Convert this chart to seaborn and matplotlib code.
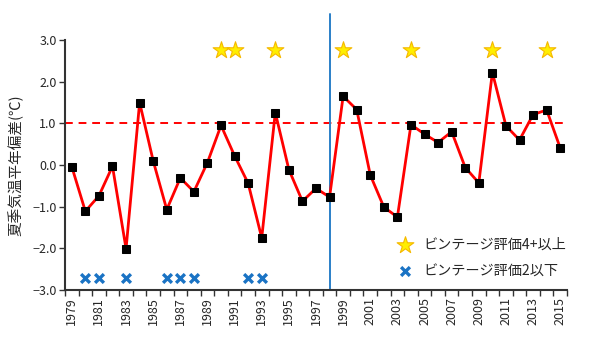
import numpy as np
import pandas as pd
import seaborn as sns
import matplotlib.pyplot as plt
from matplotlib.ticker import FixedLocator, FuncFormatter

# Summer temperature anomaly by year (deg C)
years = list(range(1979, 2016))
anomaly = [-0.04, -1.11, -0.74, -0.03, -2.01, 1.50, 0.10, -1.07, -0.31, -0.64,
           0.06, 0.95, 0.22, -0.44, -1.75, 1.26, -0.11, -0.87, -0.56, -0.77,
           1.65, 1.33, -0.24, -1.01, -1.25, 0.97, 0.74, 0.54, 0.80, -0.06,
           -0.43, 2.22, 0.94, 0.60, 1.21, 1.32, 0.41]

# Vintage rating markers
good_years = [1990, 1991, 1994, 1999, 2004, 2010, 2014]
good_level = 2.75
poor_years = [1980, 1981, 1983, 1986, 1987, 1988, 1992, 1993]
poor_level = -2.70

threshold = 1.0
change_year = 1998

good_label = "ビンテージ評価4+以上"
poor_label = "ビンテージ評価2以下"
y_label = "夏季気温平年偏差(℃)"

sns.set_style("white")
plt.rcParams["font.family"] = ["Noto Sans CJK JP", "DejaVu Sans"]

df = pd.DataFrame({"year": years, "anomaly": anomaly})
good_df = pd.DataFrame({"year": good_years, "v": [good_level] * len(good_years)})
poor_df = pd.DataFrame({"year": poor_years, "v": [poor_level] * len(poor_years)})

fig = plt.figure(figsize=(5.93, 3.39), dpi=100)
ax = fig.add_axes([65 / 593, 1 - 290 / 339, 502 / 593, 250 / 339])

ax.axhline(threshold, color="#ff0000", lw=1.4, ls=(0, (4, 3)), zorder=1)

sns.lineplot(data=df, x="year", y="anomaly", ax=ax, color="#ff0000", lw=2,
             marker="s", markersize=5.5, markerfacecolor="black",
             markeredgecolor="black", legend=False, zorder=3)

ax.axvline(change_year, ymin=0, ymax=(3.62 + 3) / 6, color="#2a7fc8",
           lw=1.4, clip_on=False, zorder=2)

sns.scatterplot(data=good_df, x="year", y="v", ax=ax, marker="*", s=160,
                color="#ffee00", edgecolor="#f5b800", linewidth=0.8,
                label=good_label, zorder=4)
sns.scatterplot(data=poor_df, x="year", y="v", ax=ax, marker="x", s=40,
                color="#1a73c4", linewidth=2.4, label=poor_label, zorder=4)

ax.set_xlim(1978.5, 2015.5)
ax.set_ylim(-3, 3)
ax.set_xlabel("")
ax.set_ylabel(y_label, fontsize=10.5, labelpad=6)

ax.set_yticks(np.arange(-3, 3.01, 1.0))
ax.yaxis.set_major_formatter(FuncFormatter(lambda v, p: f"{v:.1f}".replace("-", "−")))

ax.set_xticks(years[::2])
ax.set_xticklabels([str(y) for y in years[::2]], rotation=90)
ax.xaxis.set_minor_locator(FixedLocator(np.arange(1978.5, 2016.0, 1.0)))
ax.tick_params(axis="x", which="major", length=0, labelsize=9, pad=5)
ax.tick_params(axis="x", which="minor", length=4, width=1, color="#333333",
               direction="out", bottom=True)
ax.tick_params(axis="y", which="major", length=4, width=1, color="#333333",
               direction="out", left=True, labelsize=9, pad=2)

for side in ["top", "right"]:
    ax.spines[side].set_visible(False)
for side in ["left", "bottom"]:
    ax.spines[side].set_color("#333333")
    ax.spines[side].set_linewidth(1.5)

ax.legend(loc="upper left", bbox_to_anchor=(0.637, 0.23), frameon=False,
          fontsize=10.2, handletextpad=0.3, labelspacing=0.85, borderaxespad=0)

fig.savefig("out.png", dpi=100)
